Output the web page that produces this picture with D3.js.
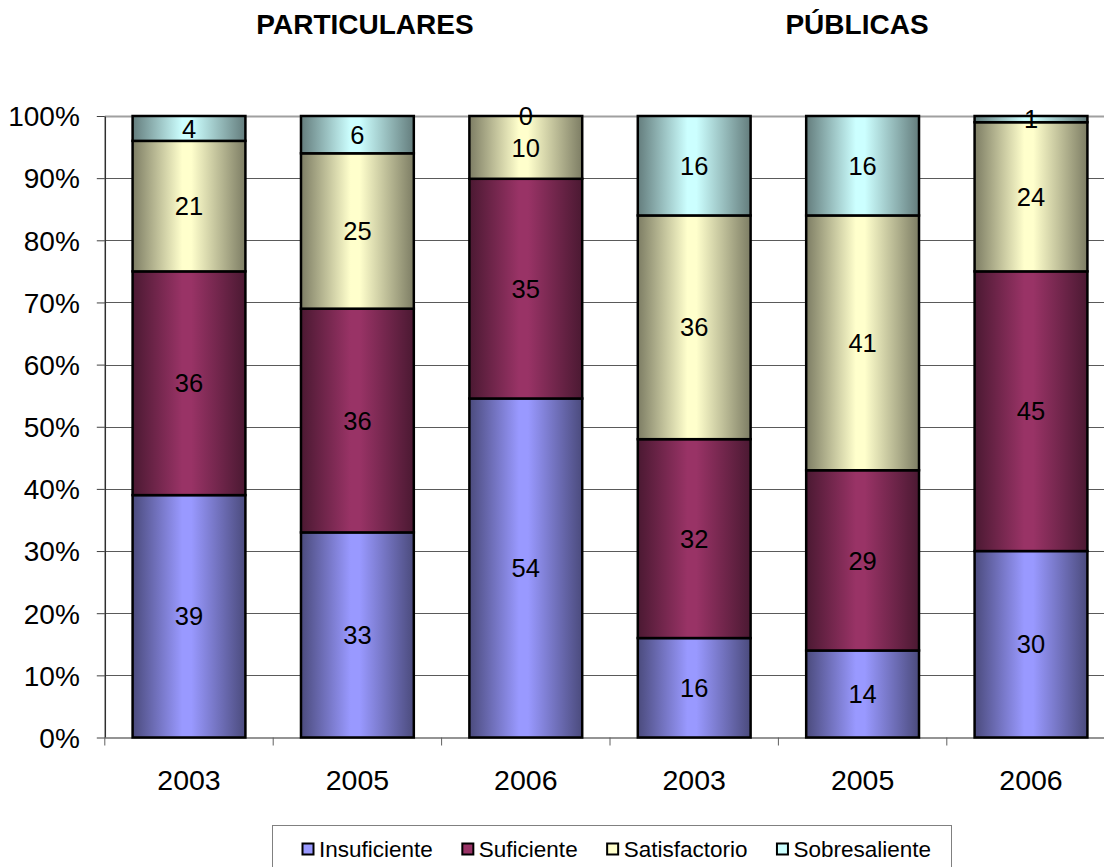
<!DOCTYPE html>
<html>
<head>
<meta charset="utf-8">
<script src="https://cdn.jsdelivr.net/npm/d3@7"></script>
<style>
  html, body { margin: 0; padding: 0; background: #fff; }
  svg { display: block; font-family: "Liberation Sans", Arial, sans-serif; }
</style>
</head>
<body>
<svg id="chart" width="1104" height="867"></svg>
<script>
// ---- data ----
const categories = ["2003", "2005", "2006", "2003", "2005", "2006"];
const groupTitles = ["PARTICULARES", "PÚBLICAS"];
const seriesNames = ["Insuficiente", "Suficiente", "Satisfactorio", "Sobresaliente"];
const insuficiente  = [39, 33, 54, 16, 14, 30];
const suficiente    = [36, 36, 35, 32, 29, 45];
const satisfactorio = [21, 25, 10, 36, 41, 24];
const sobresaliente = [4, 6, 0, 16, 16, 1];
const yTicks = [0, 0.1, 0.2, 0.3, 0.4, 0.5, 0.6, 0.7, 0.8, 0.9, 1.0];
const seriesLight = ["#9999FF", "#993366", "#FFFFCC", "#CCFFFF"];
const seriesDark  = ["#4B4B7D", "#4B1932", "#7D7D64", "#647D7D"];

// ---- build table ----
const seriesValues = [insuficiente, suficiente, satisfactorio, sobresaliente];
const table = categories.map((c, i) => {
  const row = { idx: i, cat: c };
  seriesNames.forEach((s, k) => row[s] = seriesValues[k][i]);
  return row;
});
const stacked = d3.stack().keys(seriesNames).offset(d3.stackOffsetExpand)(table);

const svg = d3.select("#chart");
const plotL = 104.8, plotR = 1115.2, plotT = 116, plotB = 737.5;

const x = d3.scaleBand().domain(d3.range(categories.length)).range([plotL, plotR])
  .paddingInner(0.33).paddingOuter(0.165);
const y = d3.scaleLinear().domain([0, 1]).range([plotB, plotT]);

// gradients
const defs = svg.append("defs");
seriesNames.forEach((s, k) => {
  const g = defs.append("linearGradient").attr("id", "grad" + k)
    .attr("x1", "0%").attr("x2", "100%").attr("y1", "0%").attr("y2", "0%");
  g.append("stop").attr("offset", "0%").attr("stop-color", seriesDark[k]);
  g.append("stop").attr("offset", "44%").attr("stop-color", seriesLight[k]);
  g.append("stop").attr("offset", "52%").attr("stop-color", seriesLight[k]);
  g.append("stop").attr("offset", "100%").attr("stop-color", seriesDark[k]);
});

// gridlines
svg.append("g").selectAll("line").data(yTicks.filter(t => t > 0)).join("line")
  .attr("x1", plotL).attr("x2", 1104)
  .attr("y1", d => Math.round(y(d)) + 0.5).attr("y2", d => Math.round(y(d)) + 0.5)
  .attr("stroke", d => d === 1 ? "#A0A0A0" : "#5A5A5A")
  .attr("stroke-width", d => d === 1 ? 2 : 1);

// y axis
const yAxis = svg.append("g").attr("transform", `translate(${plotL},0)`)
  .call(d3.axisLeft(y).tickValues(yTicks).tickFormat(d3.format(".0%")).tickSize(8).tickSizeOuter(0));
yAxis.select(".domain").attr("stroke", "#303030").attr("stroke-width", 1.5);
yAxis.selectAll(".tick line").attr("stroke", "#404040");
yAxis.selectAll(".tick text").attr("font-size", 28).attr("fill", "#000")
  .attr("x", -25).attr("dy", "0.35em")
  .attr("font-family", "'Liberation Sans', Arial, sans-serif");

// x axis
const xAxisG = svg.append("g").attr("transform", `translate(0,${plotB})`);
xAxisG.append("line").attr("x1", plotL).attr("x2", 1104).attr("y1", 0.5).attr("y2", 0.5)
  .attr("stroke", "#707070").attr("stroke-width", 1.5);
const boundaries = d3.range(categories.length + 1).map(i => plotL + i * x.step());
xAxisG.selectAll("line.tk").data(boundaries).join("line").attr("class", "tk")
  .attr("x1", d => d).attr("x2", d => d).attr("y1", 0).attr("y2", 8)
  .attr("stroke", "#606060");
xAxisG.selectAll("text").data(categories).join("text")
  .attr("x", (d, i) => x(i) + x.bandwidth() / 2).attr("y", 52.5)
  .attr("text-anchor", "middle").attr("font-size", 28.5).attr("fill", "#000")
  .text(d => d);

// bars
const layers = svg.append("g").selectAll("g").data(stacked).join("g")
  .attr("fill", (d, k) => `url(#grad${k})`);
layers.selectAll("rect").data(d => d).join("rect")
  .attr("x", d => x(d.data.idx))
  .attr("y", d => y(d[1]))
  .attr("width", x.bandwidth())
  .attr("height", d => y(d[0]) - y(d[1]))
  .attr("stroke", "#000").attr("stroke-width", 2.5);

// labels
const lab = svg.append("g");
stacked.forEach((ser, k) => {
  lab.selectAll(null).data(ser).join("text")
    .attr("x", d => x(d.data.idx) + x.bandwidth() / 2)
    .attr("y", d => y((d[0] + d[1]) / 2))
    .attr("dy", "0.36em")
    .attr("text-anchor", "middle").attr("font-size", 25.5).attr("fill", "#000")
    .text(d => d.data[ser.key]);
});

// titles
const titleX = [365, 857];
svg.selectAll("text.title").data(groupTitles).join("text").attr("class", "title")
  .attr("x", (d, i) => titleX[i]).attr("y", 34)
  .attr("text-anchor", "middle").attr("font-size", 28).attr("font-weight", "bold")
  .text(d => d);

// legend
const leg = svg.append("g");
leg.append("rect").attr("x", 272.5).attr("y", 825.5).attr("width", 679).attr("height", 50)
  .attr("fill", "#fff").attr("stroke", "#808080").attr("stroke-width", 1);
let lx = 302;
seriesNames.forEach((s, k) => {
  leg.append("rect").attr("x", lx + 0.5).attr("y", 843.5).attr("width", 11).attr("height", 11)
    .attr("fill", seriesLight[k]).attr("stroke", "#000").attr("stroke-width", 2);
  const t = leg.append("text").attr("x", lx + 17).attr("y", 857)
    .attr("font-size", 22.5).attr("fill", "#000").text(s);
  lx = lx + 17 + t.node().getComputedTextLength() + 29;
});
</script>
</body>
</html>
